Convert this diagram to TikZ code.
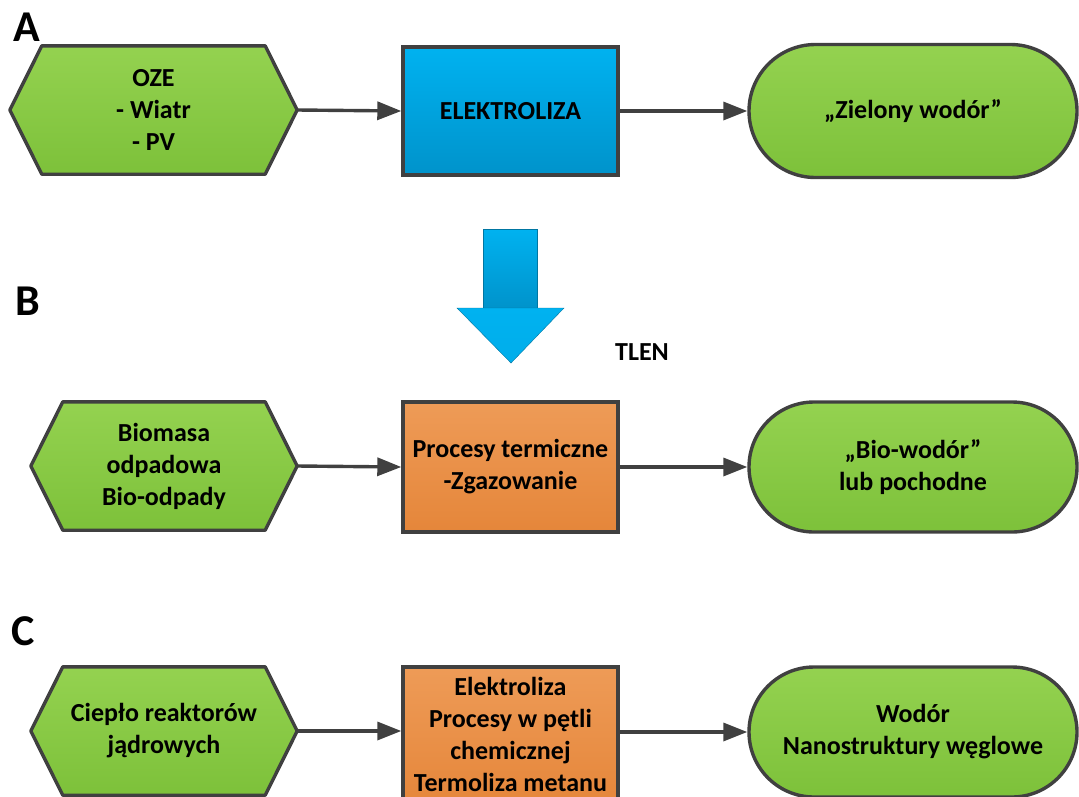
\documentclass[tikz,border=0pt]{standalone}
\usepackage{fontspec}
\setmainfont{Carlito}
\usetikzlibrary{shapes.misc,arrows.meta,backgrounds,calc}
\definecolor{edgegray}{HTML}{404040}
\definecolor{greentop}{HTML}{94D250}
\definecolor{greenbot}{HTML}{7DC13A}
\definecolor{bluetop}{HTML}{00B2F0}
\definecolor{bluebot}{HTML}{0093CB}
\definecolor{orangetop}{HTML}{EE9B57}
\definecolor{orangebot}{HTML}{E5863A}
\newcommand\hexshape[1]{%
  \path[hexfill] (#1.west) -- ($(#1.north west)+(32,0)$) -- ($(#1.north east)+(-32,0)$)
    -- (#1.east) -- ($(#1.south east)+(-32,0)$) -- ($(#1.south west)+(32,0)$) -- cycle;}
\begin{document}
\begin{tikzpicture}[x=1pt,y=-1pt,
  lbl/.style={font=\bfseries\fontsize{26}{32}\selectfont, align=center, text=black},
  letter/.style={font=\bfseries\fontsize{44}{44}\selectfont, inner sep=0},
  hexnode/.style={lbl, minimum height=128, inner sep=0},
  hexfill/.style={draw=edgegray, line width=3.4pt, line join=round, top color=greentop, bottom color=greenbot},
  bluebox/.style={lbl, draw=edgegray, line width=3.4pt, minimum width=215, minimum height=128, inner sep=0, top color=bluetop, bottom color=bluebot},
  orangebox/.style={lbl, draw=edgegray, line width=3.4pt, minimum width=215, minimum height=128, inner sep=0, top color=orangetop, bottom color=orangebot},
  endnode/.style={lbl, rounded rectangle, draw=edgegray, line width=3.4pt, minimum width=328, minimum height=133, inner sep=0, top color=greentop, bottom color=greenbot},
  flow/.style={draw=edgegray, line width=3.4pt, -{Triangle[length=24pt,width=18pt]}}
]
\useasboundingbox (0,0) rectangle (1079,796);

% labels
\node[letter] (la) at (27,27) {A};
\node[letter] (lb) at (28,301) {B};
\node[letter] (lc) at (23,631) {C};

% row A
\node[hexnode, minimum width=287] (a1) at (153.5,110) {OZE\\- Wiatr\\- PV};
\node[bluebox] (a2) at (510.5,111) {ELEKTROLIZA};
\node[endnode] (a3) at (913,111) {„Zielony wodór”};

% row B
\node[hexnode, minimum width=266] (b1) at (164,466) {Biomasa\\odpadowa\\Bio-odpady};
\node[orangebox, minimum height=130] (b2) at (510.5,467) {Procesy termiczne\\-Zgazowanie};
\node[endnode, minimum height=130] (b3) at (913,467) {„Bio-wodór”\\lub pochodne};

% row C
\node[hexnode, minimum width=266] (c1) at (164,731) {Ciepło reaktorów\\jądrowych};
\node[orangebox, minimum height=140] (c2) at (510.5,737) {};
\node[lbl] (c2t) at (510.5,734) {Elektroliza\\Procesy w pętli\\chemicznej\\Termoliza metanu};
\node[endnode, minimum height=130] (c3) at (913,732) {Wodór\\Nanostruktury węglowe};

\begin{pgfonlayer}{background}
  \hexshape{a1}
  \hexshape{b1}
  \hexshape{c1}
\end{pgfonlayer}

% connectors
\draw[flow] (a1.east) -- (a2.west);
\draw[flow] (a2.east) -- (a3.west);
\draw[flow] (b1.east) -- (b2.west);
\draw[flow] (b2.east) -- (b3.west);
\draw[flow] (c1.east) -- (c1.east -| c2.west);
\draw[flow] (c2.east |- c3.west) -- (c3.west);

% big oxygen arrow
\path[draw=bluebot!80!black, line width=0.4pt, top color=bluetop, bottom color=bluebot]
  (483,229) rectangle (537,308);
\path[draw=bluebot!80!black, line width=0.4pt, top color=bluetop, bottom color=bluetop!85!bluebot]
  (457,308) -- (564,308) -- (511,363) -- cycle;
\node[lbl] (tlen) at (642,352) {TLEN};
\end{tikzpicture}
\end{document}
